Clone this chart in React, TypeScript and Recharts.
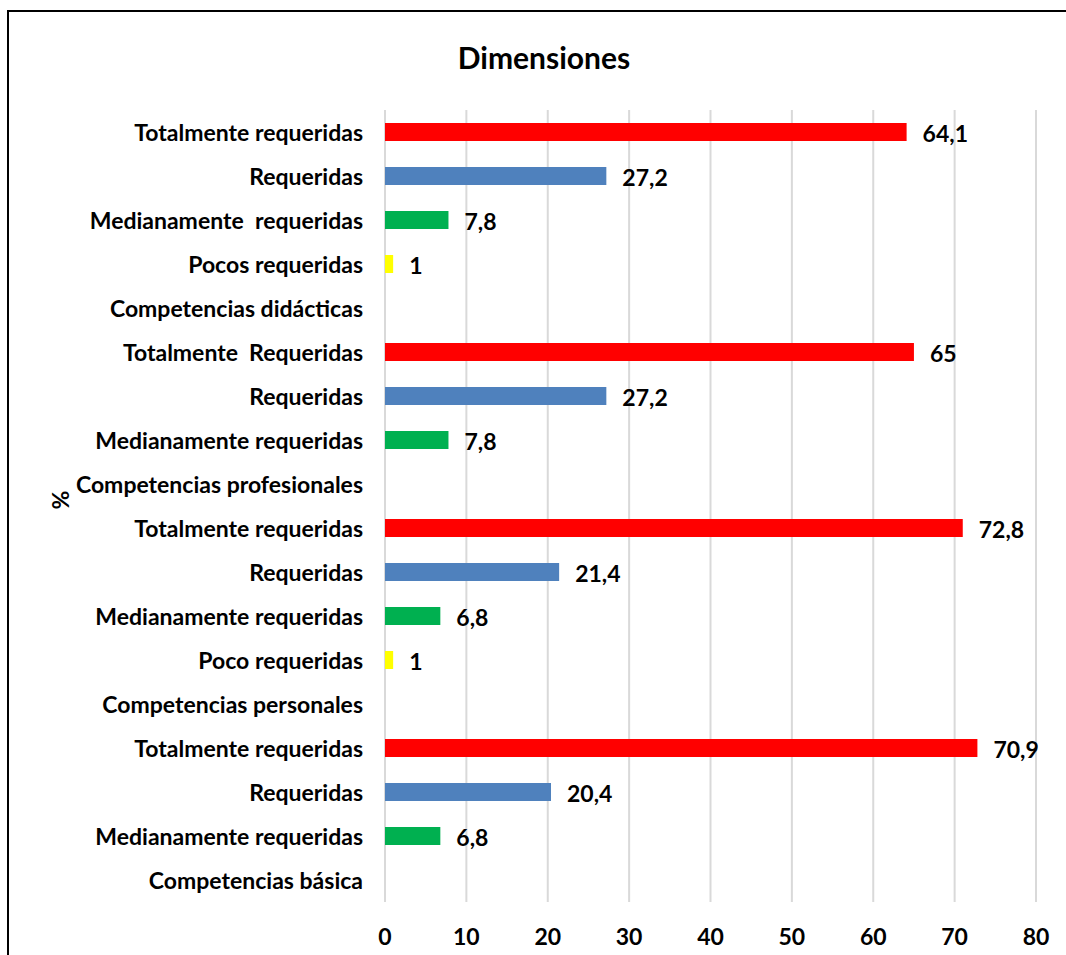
import React from "react";
import { BarChart, Bar, XAxis, YAxis, CartesianGrid, Cell, LabelList } from "recharts";

const categories = [
  "Totalmente requeridas",
  "Requeridas",
  "Medianamente  requeridas",
  "Pocos requeridas",
  "Competencias didácticas",
  "Totalmente  Requeridas",
  "Requeridas",
  "Medianamente requeridas",
  "Competencias profesionales",
  "Totalmente requeridas",
  "Requeridas",
  "Medianamente requeridas",
  "Poco requeridas",
  "Competencias personales",
  "Totalmente requeridas",
  "Requeridas",
  "Medianamente requeridas",
  "Competencias básica",
];

// bar lengths as drawn in the picture
const barValues: (number | null)[] = [
  64.1, 27.2, 7.8, 1, null,
  65, 27.2, 7.8, null,
  71.0, 21.4, 6.8, 1, null,
  72.8, 20.4, 6.8, null,
];

// data labels as printed in the picture
const valueLabels = [
  "64,1", "27,2", "7,8", "1", "",
  "65", "27,2", "7,8", "",
  "72,8", "21,4", "6,8", "1", "",
  "70,9", "20,4", "6,8", "",
];

const kinds = [
  "T", "R", "M", "P", "C",
  "T", "R", "M", "C",
  "T", "R", "M", "P", "C",
  "T", "R", "M", "C",
];

const xTicks = [0, 10, 20, 30, 40, 50, 60, 70, 80];

const colorByKind: Record<string, string> = {
  T: "#FF0000",
  R: "#4F81BD",
  M: "#00B050",
  P: "#FFFF00",
  C: "#FFFFFF",
};

const FONT = "Lato, 'Open Sans', sans-serif";
const FS = 23;

const data = categories.map((name, i) => ({
  id: i,
  name,
  value: barValues[i],
  label: valueLabels[i],
  kind: kinds[i],
}));

const YTick = (props: any) => {
  const { x, y, payload } = props;
  return (
    <text
      x={x}
      y={y}
      textAnchor="end"
      dominantBaseline="central"
      fill="#000"
      fontFamily={FONT}
      fontWeight={700}
      fontSize={FS}
      style={{ whiteSpace: "pre" }}
    >
      {categories[payload.value]}
    </text>
  );
};

const ValueLabel = (props: any) => {
  const { x, y, width, height, value } = props;
  if (!value) return null;
  return (
    <text
      x={Number(x) + Number(width) + 16}
      y={Number(y) + Number(height) / 2 + 1}
      textAnchor="start"
      dominantBaseline="central"
      fill="#000"
      fontFamily={FONT}
      fontWeight={700}
      fontSize={FS}
    >
      {value}
    </text>
  );
};

export default function App() {
  return (
    <div
      style={{
        position: "absolute",
        left: 0,
        top: 0,
        width: 1066,
        height: 955,
        overflow: "hidden",
        background: "#fff",
      }}
    >
      <div
        style={{
          position: "absolute",
          left: 7,
          top: 10,
          width: 1100,
          height: 1000,
          borderTop: "2px solid #000",
          borderLeft: "2px solid #000",
          boxSizing: "border-box",
        }}
      />
      <div
        style={{
          position: "absolute",
          left: 0,
          top: 39,
          width: 1088,
          textAlign: "center",
          fontFamily: FONT,
          fontWeight: 700,
          fontSize: 30,
          color: "#000",
        }}
      >
        Dimensiones
      </div>
      <div
        style={{
          position: "absolute",
          left: 60,
          top: 500,
          transform: "translate(-50%, -50%) rotate(-90deg)",
          fontFamily: FONT,
          fontWeight: 700,
          fontSize: FS,
          color: "#000",
        }}
      >
        %
      </div>
      <div style={{ position: "absolute", left: 0, top: 0 }}>
        <BarChart
          width={1066}
          height={955}
          data={data}
          layout="vertical"
          margin={{ top: 110, right: 30, bottom: 23, left: 0 }}
          barSize={18}
        >
          <CartesianGrid horizontal={false} vertical={true} stroke="#D9D9D9" strokeWidth={2} />
          <XAxis
            type="number"
            domain={[0, 80]}
            ticks={xTicks}
            axisLine={false}
            tickLine={false}
            tickSize={0}
            tickMargin={27}
            interval={0}
            height={30}
            tick={{ fill: "#000", fontFamily: FONT, fontWeight: 700, fontSize: FS }}
          />
          <YAxis
            type="category"
            dataKey="id"
            width={385}
            axisLine={false}
            tickLine={false}
            tickSize={0}
            tickMargin={22}
            interval={0}
            tick={<YTick />}
          />
          <Bar dataKey="value" isAnimationActive={false}>
            {data.map((d, i) => (
              <Cell key={i} fill={colorByKind[d.kind]} />
            ))}
            <LabelList dataKey="label" content={<ValueLabel />} />
          </Bar>
        </BarChart>
      </div>
    </div>
  );
}
